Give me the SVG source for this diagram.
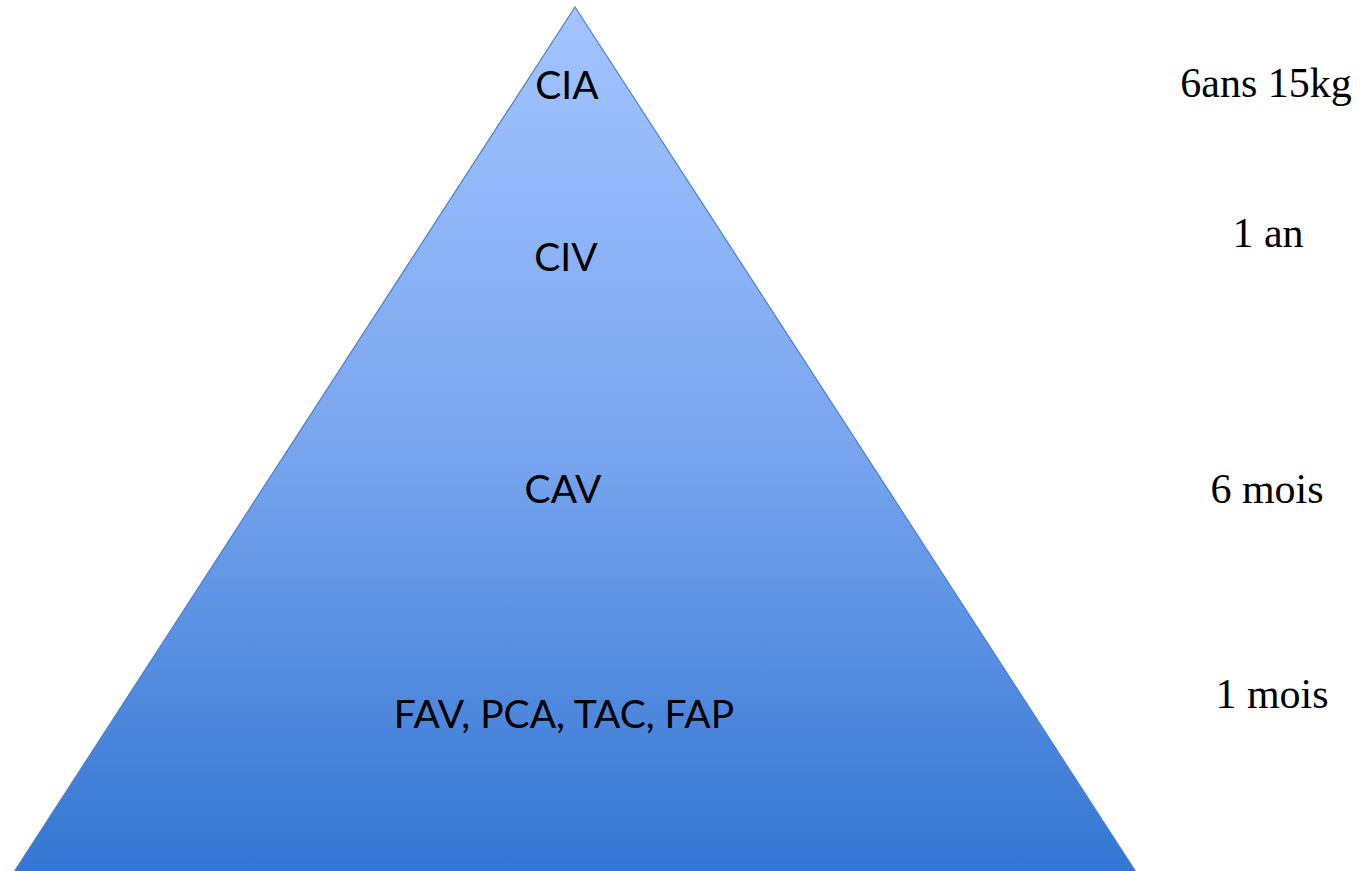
<svg xmlns="http://www.w3.org/2000/svg" width="1360" height="871" viewBox="0 0 1360 871">
<defs>
<linearGradient id="g" x1="0" y1="0" x2="0" y2="1">
<stop offset="0" stop-color="#a3c4ff"/>
<stop offset="0.5" stop-color="#7aa6ef"/>
<stop offset="1" stop-color="#3376d2"/>
</linearGradient>
<style>
.in{font-family:Lato,"Open Sans",sans-serif;font-size:39px;fill:#000;text-anchor:middle}
.out{font-family:"Liberation Serif",serif;font-size:42px;fill:#000;text-anchor:middle}
</style>
</defs>
<g id="pyramid">
<polygon points="575,7 1136,872 14,872" fill="url(#g)" stroke="#4a7fd0" stroke-width="1.2"/>
</g>
<g id="labels-inside">
<text class="in" x="567" y="99">CIA</text>
<text class="in" x="566" y="271">CIV</text>
<text class="in" x="563" y="503">CAV</text>
<text class="in" x="564" y="728">FAV, PCA, TAC, FAP</text>
</g>
<g id="labels-outside">
<text class="out" x="1266" y="97">6ans 15kg</text>
<text class="out" x="1268" y="247">1 an</text>
<text class="out" x="1267" y="503">6 mois</text>
<text class="out" x="1272" y="708">1 mois</text>
</g>
</svg>
